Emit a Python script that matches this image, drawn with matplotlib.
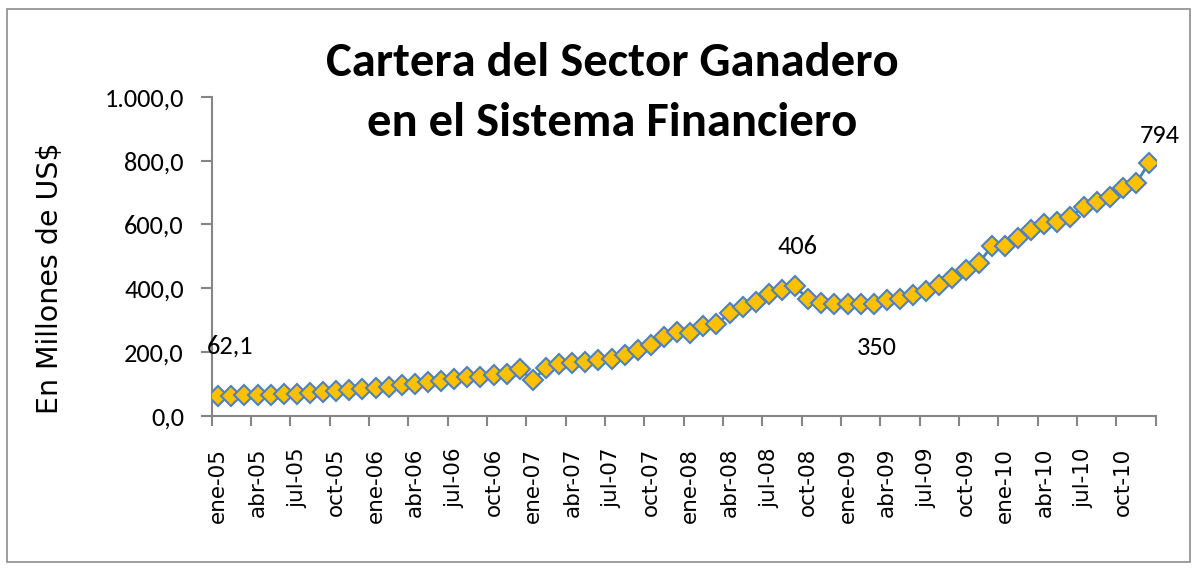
import matplotlib
matplotlib.use("Agg")
import matplotlib.pyplot as plt
from matplotlib import font_manager
from matplotlib.patches import Rectangle

# ---- data ----
months = ["ene", "feb", "mar", "abr", "may", "jun", "jul", "ago", "sep", "oct", "nov", "dic"]
years = ["05", "06", "07", "08", "09", "10"]
categories = [f"{m}-{y}" for y in years for m in months]

cartera = [62.1, 63, 64, 64, 66, 67, 69, 72, 74, 77, 81, 85,
           88, 91, 95, 98, 105, 110, 114, 120, 122, 128, 131, 146,
           112, 151, 162, 164, 169, 175, 178, 190, 206, 222, 246, 264,
           260, 281, 288, 321, 340, 358, 382, 394, 406, 365, 355, 352,
           352, 351, 350, 363, 366, 379, 392, 410, 431, 457, 478, 532,
           532, 557, 583, 601, 609, 624, 656, 671, 687, 714, 729, 794]

label_idx = [0, 44, 50, 71]
label_txt = ["62,1", "406", "350", "794"]
label_off = [(12, 50), (2, 40), (3, -43), (11, 27)]  # pixels

yticks = [0, 200, 400, 600, 800, 1000]
ytick_labels = ["0,0", "200,0", "400,0", "600,0", "800,0", "1.000,0"]

title = "Cartera del Sector Ganadero\nen el Sistema Financiero"
ylabel = "En Millones de US$"

# ---- fonts ----
avail = {f.name for f in font_manager.fontManager.ttflist}
def pick(*names):
    for n in names:
        if n in avail:
            return n
    return "DejaVu Sans"

title_font = pick("Carlito", "Liberation Sans Narrow", "Roboto Condensed", "Lato")
num_font = pick("Carlito", "Lato", "Open Sans")

fig = plt.figure(figsize=(11.94, 5.68), dpi=100)
W, H = 1194, 568
ax = fig.add_axes([211.7 / W, 1 - 415.7 / H, 944 / W, 318.7 / H])

x = list(range(len(cartera)))
ax.plot(x, cartera, color="#4A7EBB", lw=2.0, marker="D", markersize=10.5,
        markerfacecolor="#FFC000", markeredgecolor="#4F81BD", markeredgewidth=1.5,
        zorder=3)

ax.set_xlim(-0.5, len(cartera) - 0.5)
ax.set_ylim(0, 1000)

ax.set_yticks(yticks)
ax.set_yticklabels(ytick_labels)
for lab in ax.get_yticklabels():
    lab.set_fontfamily(num_font)
    lab.set_fontsize(19)
ax.tick_params(axis="y", length=8, width=1.5, color="#868686", pad=12)

major = x[::3]
ax.set_xticks(major)
ax.set_xticklabels([categories[i] for i in major], rotation=90)
for lab in ax.get_xticklabels():
    lab.set_fontfamily("DejaVu Sans")
    lab.set_fontsize(15.5)
ax.tick_params(axis="x", which="major", length=0, pad=23)
ax.set_xticks([i - 0.5 for i in range(0, len(cartera) + 1, 3)], minor=True)
ax.tick_params(axis="x", which="minor", length=7, width=1.5, color="#868686")

for s in ["top", "right"]:
    ax.spines[s].set_visible(False)
for s in ["left", "bottom"]:
    ax.spines[s].set_color("#868686")
    ax.spines[s].set_linewidth(1.5)

ax.set_ylabel(ylabel, fontfamily="DejaVu Sans", fontsize=20.5, va="center")
ax.yaxis.set_label_coords((50 - 211.7) / 944, 0.43)

for i, t, (dx, dy) in zip(label_idx, label_txt, label_off):
    ax.annotate(t, (x[i], cartera[i]), xytext=(dx, dy), textcoords="offset pixels",
                ha="center", va="center", fontfamily=num_font, fontsize=19)

fig.text(612 / W, 1 - 93 / H, title, ha="center", va="center",
         fontfamily=title_font, fontweight="bold", fontsize=35, linespacing=1.55)

fig.patches.append(Rectangle((7 / W, 1 - 562 / H), (1190 - 7) / W, (562 - 9) / H,
                             transform=fig.transFigure, fill=False,
                             edgecolor="#8C8C8C", lw=1.2))

fig.savefig("out.png", dpi=100)
